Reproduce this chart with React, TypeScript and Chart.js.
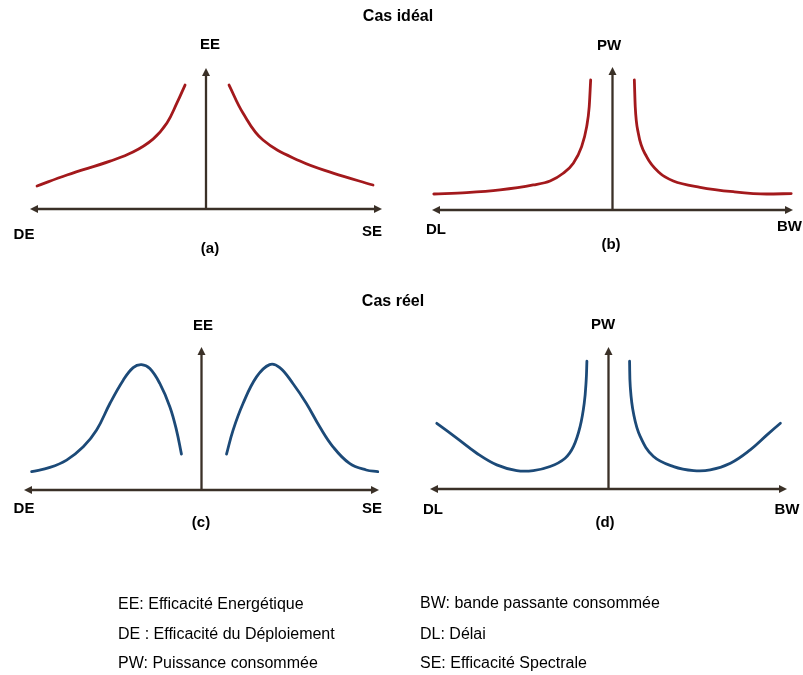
import React, { useEffect, useRef } from "react";
import { Chart, registerables } from "chart.js";

Chart.register(...registerables);

const W = 803;
const H = 675;
const FONT = '"Liberation Sans", Arial, Helvetica, sans-serif';
const RED = "#a3191c";
const BLUE = "#1c4a78";
const AXIS = "#3a3027";

// ---- Data (x: -10..10 along the horizontal axis, y: 0..10 along the vertical axis) ----
// (a) Cas idéal : EE vs DE (left) / SE (right)
const aLeftX = [-9.6, -7.9, -5.45, -4.15, -3.01, -2.22, -1.65, -1.19];
const aLeftY = [1.63, 2.41, 3.4, 4.04, 4.96, 6.1, 7.52, 8.79];
const aRightX = [1.31, 2.1, 3.24, 5.34, 7.22, 9.49];
const aRightY = [8.79, 6.81, 4.89, 3.4, 2.55, 1.7];

// (b) Cas idéal : PW vs DL (left) / BW (right)
const bLeftX = [-9.9, -8.08, -6.23, -4.39, -3.46, -2.73, -2.17, -1.71, -1.43, -1.29, -1.21];
const bLeftY = [1.12, 1.21, 1.4, 1.75, 2.03, 2.57, 3.27, 4.43, 5.83, 7.22, 9.09];
const bRightX = [1.21, 1.26, 1.43, 1.89, 2.63, 3.37, 4.85, 6.69, 8.54, 9.9];
const bRightY = [9.09, 7.22, 5.36, 3.73, 2.57, 2.03, 1.59, 1.28, 1.12, 1.15];

// (c) Cas réel : EE vs DE (left) / SE (right)
const cLeftX = [-9.57, -8.54, -7.6, -6.66, -5.91, -5.16, -4.41, -3.85, -3.38, -2.91, -2.35, -1.78, -1.41, -1.13];
const cLeftY = [1.28, 1.58, 2.09, 3.02, 4.19, 6.05, 7.68, 8.56, 8.77, 8.49, 7.45, 5.81, 4.19, 2.51];
const cRightX = [1.41, 1.78, 2.34, 3.1, 3.84, 4.41, 5.15, 5.91, 6.66, 7.41, 8.34, 9.28, 9.93];
const cRightY = [2.51, 4.19, 6.05, 7.91, 8.77, 8.56, 7.45, 6.05, 4.42, 3.02, 1.86, 1.4, 1.28];

// (d) Cas réel : PW vs DL (left) / BW (right)
const dLeftX = [-9.62, -8.5, -7.38, -6.26, -5.14, -4.21, -3.27, -2.43, -1.96, -1.59, -1.36, -1.25, -1.21];
const dLeftY = [4.63, 3.58, 2.52, 1.7, 1.3, 1.3, 1.58, 2.17, 3.0, 4.4, 6.03, 7.66, 9.0];
const dRightX = [1.18, 1.22, 1.4, 1.78, 2.52, 3.65, 4.77, 5.7, 6.83, 7.94, 8.88, 9.63];
const dRightY = [9.0, 7.2, 5.33, 3.69, 2.29, 1.58, 1.3, 1.35, 1.82, 2.76, 3.81, 4.63];

const legendLeft = ["EE: Efficacité Energétique", "DE : Efficacité du Déploiement", "PW: Puissance consommée"];
const legendRight = ["BW: bande passante consommée", "DL: Délai", "SE: Efficacité Spectrale"];
const titles = ["Cas idéal", "Cas réel"];

type Label = { t: string; x: number; y: number; align?: CanvasTextAlign };
type Panel = {
  color: string;
  smooth: "bezier" | "monotone";
  series: [number[], number[]][];
  box: { l: number; r: number; t: number; b: number };
  labels: Label[];
};

const panels: Panel[] = [
  {
    color: RED,
    smooth: "bezier",
    series: [[aLeftX, aLeftY], [aRightX, aRightY]],
    box: { l: 30, r: 382, t: 68, b: 209 },
    labels: [
      { t: "EE", x: 210, y: 44 },
      { t: "DE", x: 24, y: 234 },
      { t: "SE", x: 372, y: 231 },
      { t: "(a)", x: 210, y: 248 },
    ],
  },
  {
    color: RED,
    smooth: "monotone",
    series: [[bLeftX, bLeftY], [bRightX, bRightY]],
    box: { l: 432, r: 793, t: 67, b: 210 },
    labels: [
      { t: "PW", x: 609, y: 45 },
      { t: "DL", x: 436, y: 229 },
      { t: "BW", x: 777, y: 226, align: "left" },
      { t: "(b)", x: 611, y: 244 },
    ],
  },
  {
    color: BLUE,
    smooth: "bezier",
    series: [[cLeftX, cLeftY], [cRightX, cRightY]],
    box: { l: 24, r: 379, t: 347, b: 490 },
    labels: [
      { t: "EE", x: 203, y: 325 },
      { t: "DE", x: 24, y: 508 },
      { t: "SE", x: 372, y: 508 },
      { t: "(c)", x: 201, y: 522 },
    ],
  },
  {
    color: BLUE,
    smooth: "bezier",
    series: [[dLeftX, dLeftY], [dRightX, dRightY]],
    box: { l: 430, r: 787, t: 347, b: 489 },
    labels: [
      { t: "PW", x: 603, y: 324 },
      { t: "DL", x: 433, y: 509 },
      { t: "BW", x: 787, y: 509 },
      { t: "(d)", x: 605, y: 522 },
    ],
  },
];

function makePlugin(panel: Panel) {
  return {
    id: "arrowAxes",
    beforeDatasetsDraw(chart: any) {
      const { ctx, chartArea: a, scales } = chart;
      const x0 = scales.x.getPixelForValue(0);
      const y0 = scales.y.getPixelForValue(0);
      const head = 8;
      const half = 4;
      ctx.save();
      ctx.strokeStyle = AXIS;
      ctx.fillStyle = AXIS;
      ctx.lineWidth = 2.3;
      ctx.beginPath();
      ctx.moveTo(a.left + head - 1, y0);
      ctx.lineTo(a.right - head + 1, y0);
      ctx.moveTo(x0, y0);
      ctx.lineTo(x0, a.top + head - 1);
      ctx.stroke();
      // arrow heads
      ctx.beginPath();
      ctx.moveTo(a.left, y0);
      ctx.lineTo(a.left + head, y0 - half);
      ctx.lineTo(a.left + head, y0 + half);
      ctx.closePath();
      ctx.fill();
      ctx.beginPath();
      ctx.moveTo(a.right, y0);
      ctx.lineTo(a.right - head, y0 - half);
      ctx.lineTo(a.right - head, y0 + half);
      ctx.closePath();
      ctx.fill();
      ctx.beginPath();
      ctx.moveTo(x0, a.top);
      ctx.lineTo(x0 - half, a.top + head);
      ctx.lineTo(x0 + half, a.top + head);
      ctx.closePath();
      ctx.fill();
      ctx.restore();
    },
    afterDraw(chart: any) {
      const { ctx } = chart;
      const size = 15;
      ctx.save();
      ctx.fillStyle = "#000";
      ctx.font = `bold ${size}px ${FONT}`;
      ctx.textBaseline = "alphabetic";
      for (const lb of panel.labels) {
        ctx.textAlign = lb.align || "center";
        ctx.fillText(lb.t, lb.x, lb.y + size * 0.358);
      }
      ctx.restore();
    },
  };
}

function PanelChart({ panel }: { panel: Panel }) {
  const ref = useRef<HTMLCanvasElement | null>(null);
  useEffect(() => {
    if (!ref.current) return;
    const { box } = panel;
    const chart = new Chart(ref.current, {
      type: "scatter",
      data: {
        datasets: panel.series.map(([xs, ys]) => ({
          data: xs.map((x, i) => ({ x, y: ys[i] })),
          showLine: true,
          borderColor: panel.color,
          borderWidth: 2.8,
          pointRadius: 0,
          pointHoverRadius: 0,
          tension: panel.smooth === "bezier" ? 0.4 : 0,
          cubicInterpolationMode: panel.smooth === "monotone" ? ("monotone" as const) : ("default" as const),
          clip: false as any,
          borderCapStyle: "round" as const,
          borderJoinStyle: "round" as const,
        })),
      },
      options: {
        responsive: false,
        animation: false,
        events: [],
        layout: {
          padding: { left: box.l, right: W - box.r, top: box.t, bottom: H - box.b },
        },
        plugins: { legend: { display: false }, tooltip: { enabled: false }, title: { display: false } },
        scales: {
          x: { type: "linear", min: -10, max: 10, display: false },
          y: { type: "linear", min: 0, max: 10, display: false },
        },
      },
      plugins: [makePlugin(panel)],
    });
    return () => chart.destroy();
  }, [panel]);
  return (
    <canvas
      ref={ref}
      width={W}
      height={H}
      style={{ position: "absolute", left: 0, top: 0, width: W, height: H }}
    />
  );
}

function Text({ x, y, children, bold, size, center }: any) {
  return (
    <div
      style={{
        position: "absolute",
        left: x,
        top: y - 10,
        lineHeight: "20px",
        fontFamily: FONT,
        fontSize: size,
        fontWeight: bold ? "bold" : "normal",
        color: "#000",
        whiteSpace: "nowrap",
        transform: center ? "translateX(-50%)" : undefined,
      }}
    >
      {children}
    </div>
  );
}

export default function App() {
  const legendLeftY = [604, 634, 663];
  const legendRightY = [603, 634, 663];
  return (
    <div
      style={{
        position: "absolute",
        left: 0,
        top: 0,
        width: W,
        height: H,
        overflow: "hidden",
        background: "#fff",
      }}
    >
      {panels.map((p, i) => (
        <PanelChart key={i} panel={p} />
      ))}
      <Text x={398} y={16} bold size={16} center>
        {titles[0]}
      </Text>
      <Text x={393} y={301} bold size={16} center>
        {titles[1]}
      </Text>
      {legendLeft.map((t, i) => (
        <Text key={"l" + i} x={118} y={legendLeftY[i]} size={16}>
          {t}
        </Text>
      ))}
      {legendRight.map((t, i) => (
        <Text key={"r" + i} x={420} y={legendRightY[i]} size={16}>
          {t}
        </Text>
      ))}
    </div>
  );
}
